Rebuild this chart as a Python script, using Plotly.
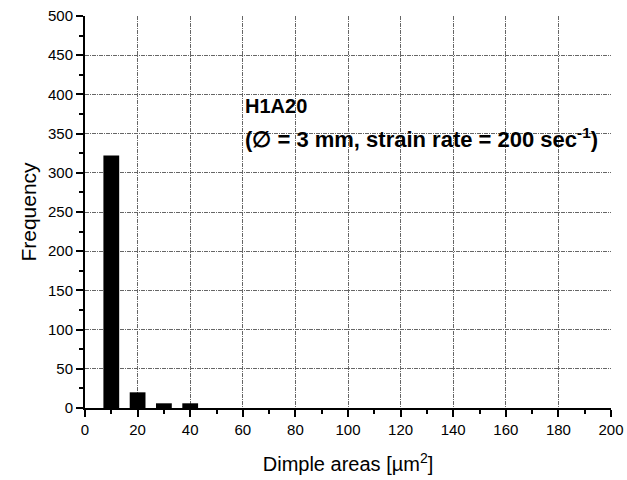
import plotly.graph_objects as go

bin_centers = [10, 20, 30, 40]
frequency = [322, 20, 6, 6]
x_ticks = list(range(0, 201, 20))
y_ticks = list(range(0, 501, 50))

fig = go.Figure()
fig.add_trace(go.Bar(x=bin_centers, y=frequency, width=6,
                     marker=dict(color="black", line=dict(width=0))))

font = "Liberation Sans, Arial, sans-serif"
grid = dict(showgrid=True, gridcolor="#666", gridwidth=1, griddash="4px,1px,1px,1px")
fig.update_layout(
    width=627, height=480,
    margin=dict(l=85, r=16, t=16, b=72),
    plot_bgcolor="white", paper_bgcolor="white",
    showlegend=False,
    font=dict(family=font, color="black", size=15),
    xaxis=dict(range=[0, 200], tickvals=x_ticks, showline=True, linecolor="black", linewidth=2,
               ticks="outside", ticklen=7, tickwidth=2, tickcolor="black", automargin=False,
               minor=dict(dtick=10, ticks="outside", ticklen=4, tickwidth=2, tickcolor="black", showgrid=False),
               zeroline=False, tickfont=dict(size=15), **grid,
               title=dict(text="Dimple areas [µm<sup>2</sup>]", font=dict(size=20), standoff=20)),
    yaxis=dict(range=[0, 500], tickvals=y_ticks, showline=True, linecolor="black", linewidth=2,
               ticks="outside", ticklen=7, tickwidth=2, tickcolor="black", automargin=False,
               minor=dict(dtick=25, ticks="outside", ticklen=4, tickwidth=2, tickcolor="black", showgrid=False),
               zeroline=False, tickfont=dict(size=15), **grid,
               title=dict(text="Frequency", font=dict(size=21), standoff=6)),
    annotations=[
        dict(x=60, y=385, xref="x", yref="y", xanchor="left", yanchor="middle", showarrow=False,
             text="<b>H1A20</b>", font=dict(size=20, family=font)),
        dict(x=60, y=345, xref="x", yref="y", xanchor="left", yanchor="middle", showarrow=False,
             text="<b>(∅ = 3 mm, strain rate = 200 sec<sup>-1</sup>)</b>", font=dict(size=22, family=font)),
    ],
)
fig.write_html("out.html", config={"displayModeBar": False},
               post_script="document.body.style.margin='0';")
